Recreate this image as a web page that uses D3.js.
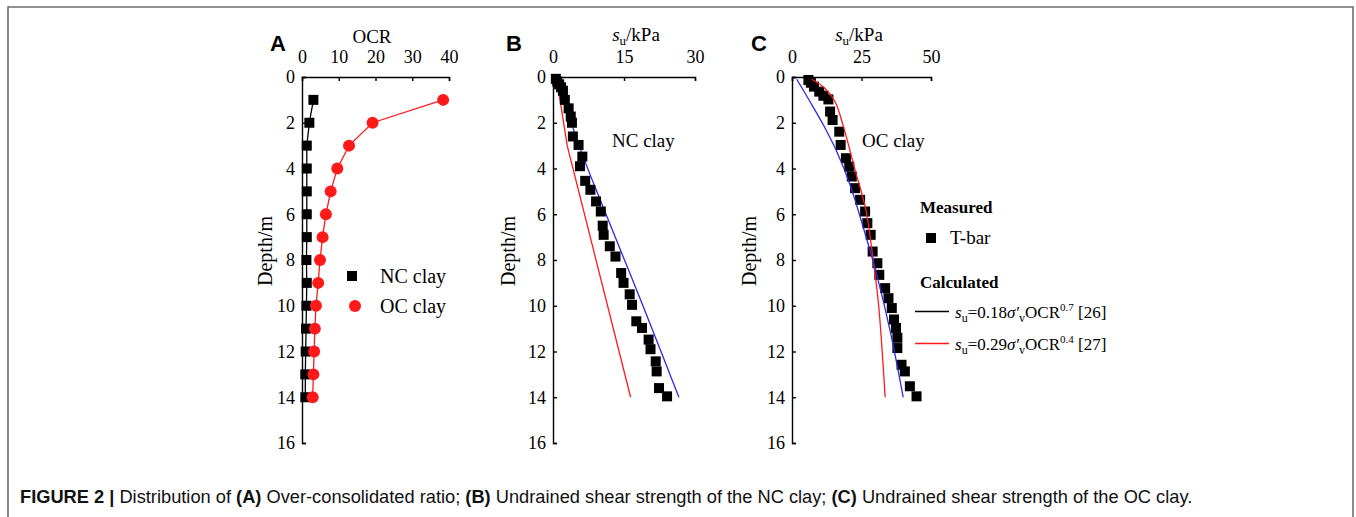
<!DOCTYPE html>
<html>
<head>
<meta charset="utf-8">
<script src="https://cdn.jsdelivr.net/npm/d3@7"></script>
<style>
  body { margin: 0; background: #fff; }
  text { white-space: pre; }
</style>
</head>
<body>
<script>
const width = 1356;
const height = 517;

// panel A: OCR profile
const depthA = [1, 2, 3, 4, 5, 6, 7, 8, 9, 10, 11, 12, 13, 14];
const ocrNC = [3.1, 2.0, 1.3, 1.3, 1.3, 1.3, 1.3, 1.2, 1.3, 1.2, 1.1, 1.0, 0.9, 0.9];
const ocrOC = [38.4, 19.2, 12.8, 9.6, 7.8, 6.5, 5.6, 4.9, 4.4, 3.8, 3.5, 3.3, 3.1, 2.9];

// panel B: NC clay, [depth, su]
const tbarNC = [[0.08, 0.6], [0.2, 0.9], [0.32, 1.3], [0.45, 1.7], [0.6, 2.1], [1.0, 2.5], [1.37, 3.3],
  [1.73, 3.75], [2.0, 4.0], [2.6, 4.2], [2.97, 5.4], [3.48, 6.2], [3.9, 5.7], [4.54, 6.8], [4.93, 7.9],
  [5.44, 9.1], [5.88, 10.1], [6.5, 10.5], [6.9, 10.7], [7.4, 12.0], [7.85, 13.2], [8.57, 14.4],
  [9.0, 14.9], [9.5, 16.2], [9.96, 16.7], [10.68, 17.6], [10.97, 18.8], [11.48, 20.2], [11.9, 20.6],
  [12.43, 21.7], [12.87, 21.9], [13.6, 22.4], [13.96, 24.1]];
const calc26NC = [[0.05, 0.9], [3, 5.5], [6, 11.2], [10, 19.0], [14, 26.6]];
const calc27NC = [[0.1, 0.8], [3.0, 3.0], [14, 16.4]];

// panel C: OC clay, [depth, su]
const tbarOC = [[0.13, 5.9], [0.25, 6.8], [0.42, 7.9], [0.64, 9.8], [0.82, 11.3], [0.98, 13.1],
  [1.51, 13.7], [1.88, 14.6], [2.39, 17.0], [2.97, 17.5], [3.55, 19.4], [3.92, 20.6], [4.35, 21.5],
  [4.86, 22.7], [5.37, 24.5], [5.88, 26.3], [6.39, 27.1], [6.9, 28.3], [7.63, 29.0], [8.14, 30.7],
  [8.65, 31.4], [9.23, 33.5], [9.67, 34.7], [10.1, 35.9], [10.6, 36.7], [10.97, 37.4], [11.4, 37.9],
  [11.85, 37.9], [12.58, 39.4], [12.87, 40.6], [13.52, 42.4], [13.96, 44.8]];
const calc26OC = [[0.1, 1.7], [1.08, 6.5], [2.1, 11.3], [3.26, 16.1], [4.72, 20.9], [6.6, 25.7],
  [8.65, 30.5], [11.1, 35.3], [14, 40.0]];
const calc27OC = [[0.1, 7.1], [0.5, 11.9], [1.08, 15.5], [2.17, 18.5], [4.07, 22.7], [5.82, 26.6],
  [7.72, 28.9], [9.9, 31.1], [14, 33.5]];

const depthTicks = [0, 2, 4, 6, 8, 10, 12, 14, 16];
const ticksA = [0, 10, 20, 30, 40];
const ticksB = [0, 15, 30];
const ticksC = [0, 25, 50];

const serif = "'Liberation Serif', 'Times New Roman', serif";
const sans = "'Liberation Sans', Arial, sans-serif";
const red = "#ff1a1a";
const blue = "#2a2ae6";

const svg = d3.select("body").append("svg")
  .attr("width", width).attr("height", height);

// frame
svg.append("path")
  .attr("d", "M8,517V7H1353V517")
  .attr("fill", "none").attr("stroke", "#6e6e6e").attr("stroke-width", 1.6);

const y = d3.scaleLinear().domain([0, 16]).range([77, 443]);

function makePanel(x0, x1, xmax, ticks) {
  const x = d3.scaleLinear().domain([0, xmax]).range([x0, x1]);
  const g = svg.append("g");
  const ax = g.append("g").attr("transform", `translate(0,${y(0)})`)
    .call(d3.axisTop(x).tickValues(ticks).tickSizeInner(-4).tickSizeOuter(-4).tickPadding(14));
  const ay = g.append("g").attr("transform", `translate(${x0},0)`)
    .call(d3.axisLeft(y).tickValues(depthTicks).tickSizeInner(-4).tickSizeOuter(-4).tickPadding(7));
  [ax, ay].forEach(a => {
    a.attr("font-family", serif).attr("font-size", 18);
    a.selectAll("path, line").attr("stroke", "#000").attr("stroke-width", 1.4);
    a.selectAll("text").attr("fill", "#000");
  });
  return {x, g};
}

function depthLabel(g, xb) {
  g.append("text").attr("transform", `translate(${xb},251) rotate(-90)`)
    .attr("text-anchor", "middle").attr("font-family", serif).attr("font-size", 20)
    .text("Depth/m");
}

function letter(xp, s) {
  svg.append("text").attr("x", xp).attr("y", 51)
    .attr("font-family", sans).attr("font-weight", "bold").attr("font-size", 22)
    .text(s);
}

function suTitle(cx) {
  const t = svg.append("text").attr("x", cx).attr("y", 41).attr("text-anchor", "middle")
    .attr("font-family", serif).attr("font-size", 19);
  t.append("tspan").attr("font-style", "italic").text("s");
  t.append("tspan").attr("font-size", 13).attr("dy", 3.5).text("u");
  t.append("tspan").attr("dy", -3.5).text("/kPa");
}

function squares(g, x, data, size) {
  g.selectAll(null).data(data).enter().append("rect")
    .attr("x", d => x(d[1]) - size / 2).attr("y", d => y(d[0]) - size / 2)
    .attr("width", size).attr("height", size).attr("fill", "#000");
}

function curve(g, x, data, color, smooth) {
  const line = d3.line().x(d => x(d[1])).y(d => y(d[0]));
  if (smooth) line.curve(d3.curveCatmullRom);
  g.append("path").datum(data).attr("d", line)
    .attr("fill", "none").attr("stroke", color).attr("stroke-width", 1.3);
}

// ---- panel A
const A = makePanel(302, 449, 40, ticksA);
letter(270, "A");
svg.append("text").attr("x", 372).attr("y", 43).attr("text-anchor", "middle")
  .attr("font-family", serif).attr("font-size", 19).text("OCR");
depthLabel(A.g, 272);

const nc = depthA.map((d, i) => [d, ocrNC[i]]);
const oc = depthA.map((d, i) => [d, ocrOC[i]]);
curve(A.g, A.x, nc, "#000", false);
squares(A.g, A.x, nc, 10);
curve(A.g, A.x, oc, red, false);
A.g.selectAll(null).data(oc).enter().append("circle")
  .attr("cx", d => A.x(d[1])).attr("cy", d => y(d[0])).attr("r", 6).attr("fill", red);

A.g.append("rect").attr("x", 347).attr("y", 271).attr("width", 10).attr("height", 10).attr("fill", "#000");
A.g.append("circle").attr("cx", 355).attr("cy", 306).attr("r", 6).attr("fill", red);
A.g.append("text").attr("x", 380).attr("y", 283).attr("font-family", serif).attr("font-size", 20).text("NC clay");
A.g.append("text").attr("x", 380).attr("y", 313).attr("font-family", serif).attr("font-size", 20).text("OC clay");

// ---- panel B
const B = makePanel(553, 695, 30, ticksB);
letter(506, "B");
suTitle(636);
depthLabel(B.g, 515);
curve(B.g, B.x, calc27NC, red, false);
curve(B.g, B.x, calc26NC, blue, true);
squares(B.g, B.x, tbarNC, 10);
B.g.append("text").attr("x", 612).attr("y", 147).attr("font-family", serif).attr("font-size", 19).text("NC clay");

// ---- panel C
const C = makePanel(792, 931, 50, ticksC);
letter(751, "C");
suTitle(859);
depthLabel(C.g, 756);
squares(C.g, C.x, tbarOC, 10);
curve(C.g, C.x, calc27OC, red, true);
curve(C.g, C.x, calc26OC, blue, true);
C.g.append("text").attr("x", 862).attr("y", 147).attr("font-family", serif).attr("font-size", 19).text("OC clay");

// legend C
const leg = svg.append("g").attr("font-family", serif);
leg.append("text").attr("x", 920).attr("y", 213).attr("font-weight", "bold").attr("font-size", 17).text("Measured");
leg.append("rect").attr("x", 926).attr("y", 233).attr("width", 10).attr("height", 10).attr("fill", "#000");
leg.append("text").attr("x", 950).attr("y", 244).attr("font-size", 19).text("T-bar");
leg.append("text").attr("x", 920).attr("y", 288).attr("font-weight", "bold").attr("font-size", 17).text("Calculated");

function formula(yb, color, coef, pw, ref) {
  leg.append("line").attr("x1", 915).attr("x2", 949).attr("y1", yb - 6.5).attr("y2", yb - 6.5)
    .attr("stroke", color).attr("stroke-width", 1.3);
  const t = leg.append("text").attr("x", 955).attr("y", yb).attr("font-size", 17);
  t.append("tspan").attr("font-style", "italic").text("s");
  t.append("tspan").attr("font-size", 12).attr("dy", 4).text("u");
  t.append("tspan").attr("dy", -4).text("=" + coef);
  t.append("tspan").attr("font-style", "italic").text("σ′");
  t.append("tspan").attr("font-size", 12).attr("dy", 4).text("v");
  t.append("tspan").attr("dy", -4).text("OCR");
  t.append("tspan").attr("font-size", 11).attr("dy", -7).text(pw);
  t.append("tspan").attr("dy", 7).text(" " + ref);
}
formula(318, "#000", "0.18", "0.7", "[26]");
formula(350, red, "0.29", "0.4", "[27]");

// caption
const cap = svg.append("text").attr("x", 20).attr("y", 503)
  .attr("font-family", sans).attr("font-size", 15).attr("fill", "#111");
const parts = [
  ["FIGURE 2 | ", true], ["Distribution of ", false], ["(A)", true], [" Over-consolidated ratio; ", false],
  ["(B)", true], [" Undrained shear strength of the NC clay; ", false], ["(C)", true],
  [" Undrained shear strength of the OC clay.", false]
];
parts.forEach(p => cap.append("tspan").attr("font-weight", p[1] ? "bold" : null).text(p[0]));
const len = cap.node().getComputedTextLength();
cap.attr("font-size", 15 * 1173 / len);
</script>
</body>
</html>
